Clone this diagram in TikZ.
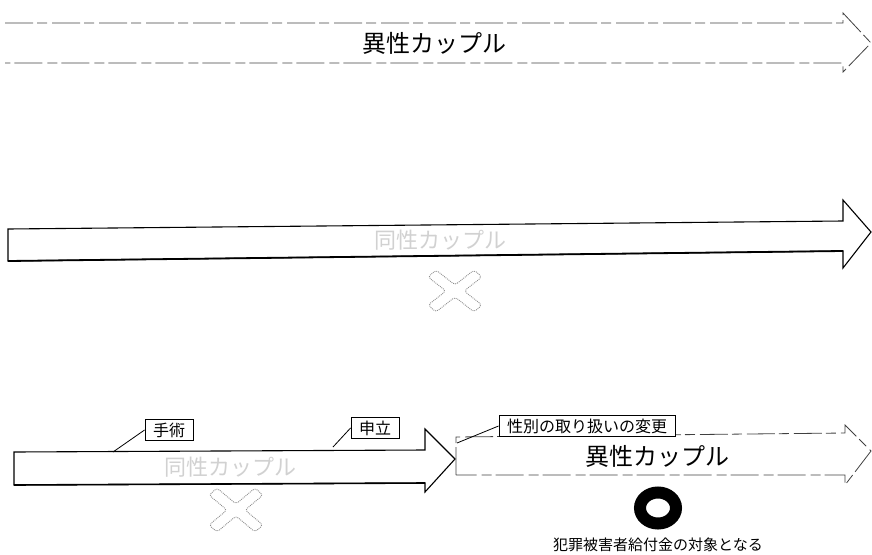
\documentclass[tikz,border=0pt]{standalone}
\usepackage{fontspec}
\newfontfamily\jp{Noto Sans CJK JP}
\begin{document}
\begin{tikzpicture}[x=1pt,y=-1pt,
  dashline/.style={draw=black!75, line width=0.8pt, dash pattern=on 28pt off 4pt on 10pt off 5pt},
  solidline/.style={draw=black, line width=1.1pt, line join=miter},
  bigtext/.style={font=\jp\fontsize{24}{24}\selectfont, inner sep=0pt},
  fainttext/.style={font=\jp\fontsize{22}{22}\selectfont, text=black!18, inner sep=0pt},
  callout/.style={draw=black, line width=0.9pt, fill=white, font=\jp\fontsize{16}{16}\selectfont, inner xsep=8pt, inner ysep=3.5pt},
  leader/.style={draw=black, line width=0.8pt},
  crossmark/.style={draw=black!45, densely dotted, line width=0.9pt, rounded corners=3pt},
  label/.style={font=\jp\fontsize{15}{15}\selectfont, inner sep=0pt}]
\useasboundingbox (0,0) rectangle (872,554);

% ---- top arrow (dashed outline) ----
\draw[dashline] (5,23) -- (843,23) -- (843,13) -- (871,43) -- (843,72) -- (843,63) -- (5,63);
\node[bigtext] (t1) at (434,43) {異性カップル};

% ---- middle arrow ----
\draw[solidline] (8,229) -- (843,221) -- (843,200) -- (871,232) -- (843,268) -- (843,251) -- (8,261) -- cycle;
\draw[draw=black, line width=1.8pt] (8,261) -- (843,251);
\node[fainttext] (t2) at (440,240) {同性カップル};
\begin{scope}[shift={(455,291)}]
\draw[crossmark] (0,-6) -- (19,-21) -- (27,-14) -- (9,0) -- (27,14) -- (19,21) -- (0,6) -- (-19,21) -- (-27,14) -- (-9,0) -- (-27,-14) -- (-19,-21) -- cycle;
\end{scope}

% ---- bottom left arrow ----
\draw[solidline] (14,452) -- (425,450) -- (425,429) -- (455,459) -- (425,492) -- (425,483) -- (14,485) -- cycle;
\draw[draw=black, line width=1.6pt] (14,485) -- (425,483);
\node[fainttext] (t3) at (230,467) {同性カップル};
\begin{scope}[shift={(236,510)}]
\draw[crossmark] (0,-6) -- (19,-22) -- (27,-15) -- (9,0) -- (27,15) -- (19,22) -- (0,6) -- (-19,22) -- (-27,15) -- (-9,0) -- (-27,-15) -- (-19,-22) -- cycle;
\end{scope}

% ---- bottom right arrow (dashed outline) ----
\draw[dashline] (456,475) -- (456,437) -- (845,433) -- (845,425) -- (871,451) -- (845,485) -- (845,475) -- cycle;
\node[bigtext] (t4) at (657,456) {異性カップル};

% ---- callouts ----
\coordinate (p1) at (113,452);
\coordinate (p2) at (333,447);
\coordinate (p3) at (457,443);
\node[callout] (c1) at (169,430) {手術};
\node[callout] (c2) at (375,428) {申立};
\node[callout] (c3) at (587,426) {性別の取り扱いの変更};
\draw[leader] (c1.west) -- (p1);
\draw[leader] (c2.west) -- (p2);
\draw[leader] (c3.west) -- (p3);

% ---- circle mark and label ----
\draw[line width=12pt] (658,508) ellipse (18 and 15.5);
\node[label] (lab) at (658,545) {犯罪被害者給付金の対象となる};
\end{tikzpicture}
\end{document}
